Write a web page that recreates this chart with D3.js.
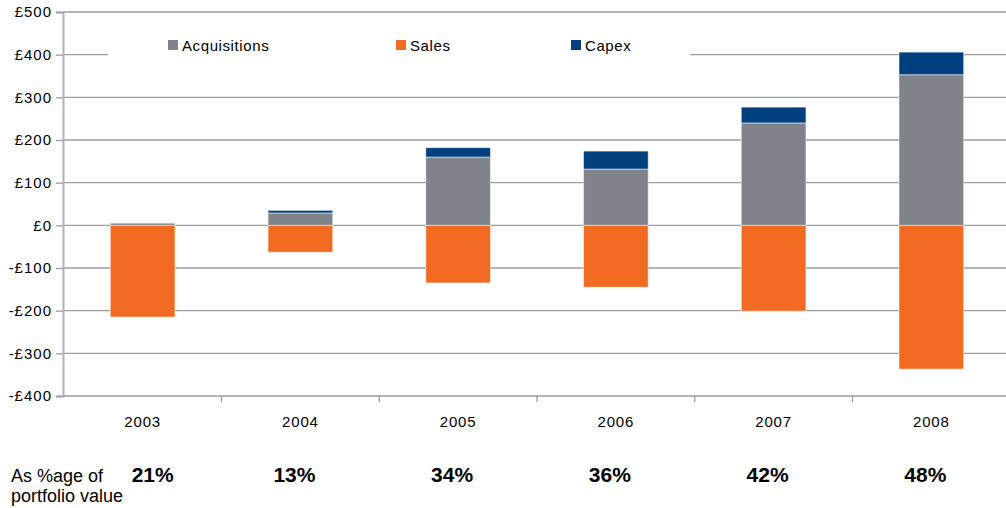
<!DOCTYPE html>
<html>
<head>
<meta charset="utf-8">
<script src="https://cdn.jsdelivr.net/npm/d3@7"></script>
<style>
  body { margin: 0; background: #fff; }
  svg { font-family: "Liberation Sans", Arial, sans-serif; }
</style>
</head>
<body>
<div class="chart"></div>
<script>
var years = ["2003", "2004", "2005", "2006", "2007", "2008"];
var acquisitions = [5, 29, 160, 132, 240, 353];
var sales = [-215, -63, -135, -145, -201, -337];
var capex = [0, 6, 22, 42, 37, 53];
var pctLabels = ["21%", "13%", "34%", "36%", "42%", "48%"];
var yTicks = [-400, -300, -200, -100, 0, 100, 200, 300, 400, 500];
var seriesNames = ["Acquisitions", "Sales", "Capex"];
var colors = ["#808389", "#f26b22", "#00407f"];

var width = 1006,
    height = 508;
var margin = {left: 63, top: 12, right: -5, bottom: 112};

var svg = d3.select(".chart").append("svg")
    .attr("width", width)
    .attr("height", height);

var x = d3.scaleBand()
    .domain(years)
    .range([margin.left, width - margin.right])
    .paddingInner(0.59)
    .paddingOuter(0.3);

var y = d3.scaleLinear()
    .domain([-400, 500])
    .range([height - margin.bottom, margin.top]);

// gridlines
svg.append("g")
    .selectAll("line")
    .data(yTicks)
    .enter().append("line")
    .attr("x1", margin.left)
    .attr("x2", width)
    .attr("y1", function(d) { return y(d); })
    .attr("y2", function(d) { return y(d); })
    .attr("stroke", "#9c9c9c")
    .attr("stroke-width", 1.3);

// y axis
var yAxis = svg.append("g")
    .attr("transform", "translate(" + margin.left + ",0)")
    .call(d3.axisLeft(y).tickValues(yTicks).tickSize(7).tickPadding(4)
      .tickFormat(function(d) { return (d < 0 ? "-£" : "£") + Math.abs(d); }));
yAxis.select(".domain").attr("stroke", "#b0b0b4").attr("stroke-width", 2);
yAxis.selectAll(".tick line").attr("stroke", "#9c9c9c").attr("stroke-width", 1.3);
yAxis.selectAll("text")
    .attr("font-size", 15)
    .attr("letter-spacing", 1)
    .attr("font-family", "Liberation Sans, Arial, sans-serif")
    .attr("fill", "#000");

// x axis ticks at category boundaries
var step = x.step();
svg.append("g")
    .selectAll("line")
    .data(years.slice(1))
    .enter().append("line")
    .attr("x1", function(d) { return x(d) + x.bandwidth() / 2 - step / 2; })
    .attr("x2", function(d) { return x(d) + x.bandwidth() / 2 - step / 2; })
    .attr("y1", y(-400))
    .attr("y2", y(-400) + 6)
    .attr("stroke", "#9c9c9c")
    .attr("stroke-width", 1.3);

svg.append("g")
    .selectAll("text")
    .data(years)
    .enter().append("text")
    .attr("x", function(d) { return x(d) + x.bandwidth() / 2; })
    .attr("y", 427)
    .attr("text-anchor", "middle")
    .attr("font-size", 15)
    .attr("letter-spacing", 0.8)
    .text(function(d) { return d; });

// bars
var rows = years.map(function(d, i) {
  return {year: d, acq: acquisitions[i], sales: sales[i], capex: capex[i]};
});

function bar(y0, y1, color) {
  svg.append("g")
      .selectAll("rect")
      .data(rows)
      .enter().append("rect")
      .attr("x", function(d) { return x(d.year); })
      .attr("width", x.bandwidth())
      .attr("y", function(d) { return Math.min(y(y0(d)), y(y1(d))); })
      .attr("height", function(d) { return Math.abs(y(y0(d)) - y(y1(d))); })
      .attr("fill", color)
      .attr("stroke", "#ffffff")
      .attr("stroke-opacity", 0.5)
      .attr("stroke-width", 1);
}
bar(function(d) { return 0; }, function(d) { return d.sales; }, colors[1]);
bar(function(d) { return 0; }, function(d) { return d.acq; }, colors[0]);
bar(function(d) { return d.acq; }, function(d) { return d.acq + d.capex; }, colors[2]);

// legend
svg.append("rect")
    .attr("x", 108)
    .attr("y", 30)
    .attr("width", 582)
    .attr("height", 36)
    .attr("fill", "#fff");

var legendX = [168, 396, 571];
var legend = svg.selectAll(".legend")
    .data(seriesNames)
    .enter().append("g")
    .attr("class", "legend")
    .attr("transform", function(d, i) { return "translate(" + legendX[i] + ",40)"; });
legend.append("rect")
    .attr("width", 10)
    .attr("height", 10)
    .attr("fill", function(d, i) { return colors[i]; });
legend.append("text")
    .attr("x", 14)
    .attr("y", 11)
    .attr("font-size", 15)
    .attr("letter-spacing", 0.6)
    .text(function(d) { return d; });

// percentage row
svg.append("text")
    .attr("x", 11)
    .attr("y", 482)
    .attr("font-size", 18)
    .text("As %age of");
svg.append("text")
    .attr("x", 11)
    .attr("y", 502)
    .attr("font-size", 18)
    .text("portfolio value");

svg.append("g")
    .selectAll("text")
    .data(pctLabels)
    .enter().append("text")
    .attr("x", function(d, i) { return x(years[i]) + x.bandwidth() / 2 - (i === 0 ? -10 : 6); })
    .attr("y", 482)
    .attr("text-anchor", "middle")
    .attr("font-size", 21)
    .attr("font-weight", "bold")
    .text(function(d) { return d; });
</script>
</body>
</html>
